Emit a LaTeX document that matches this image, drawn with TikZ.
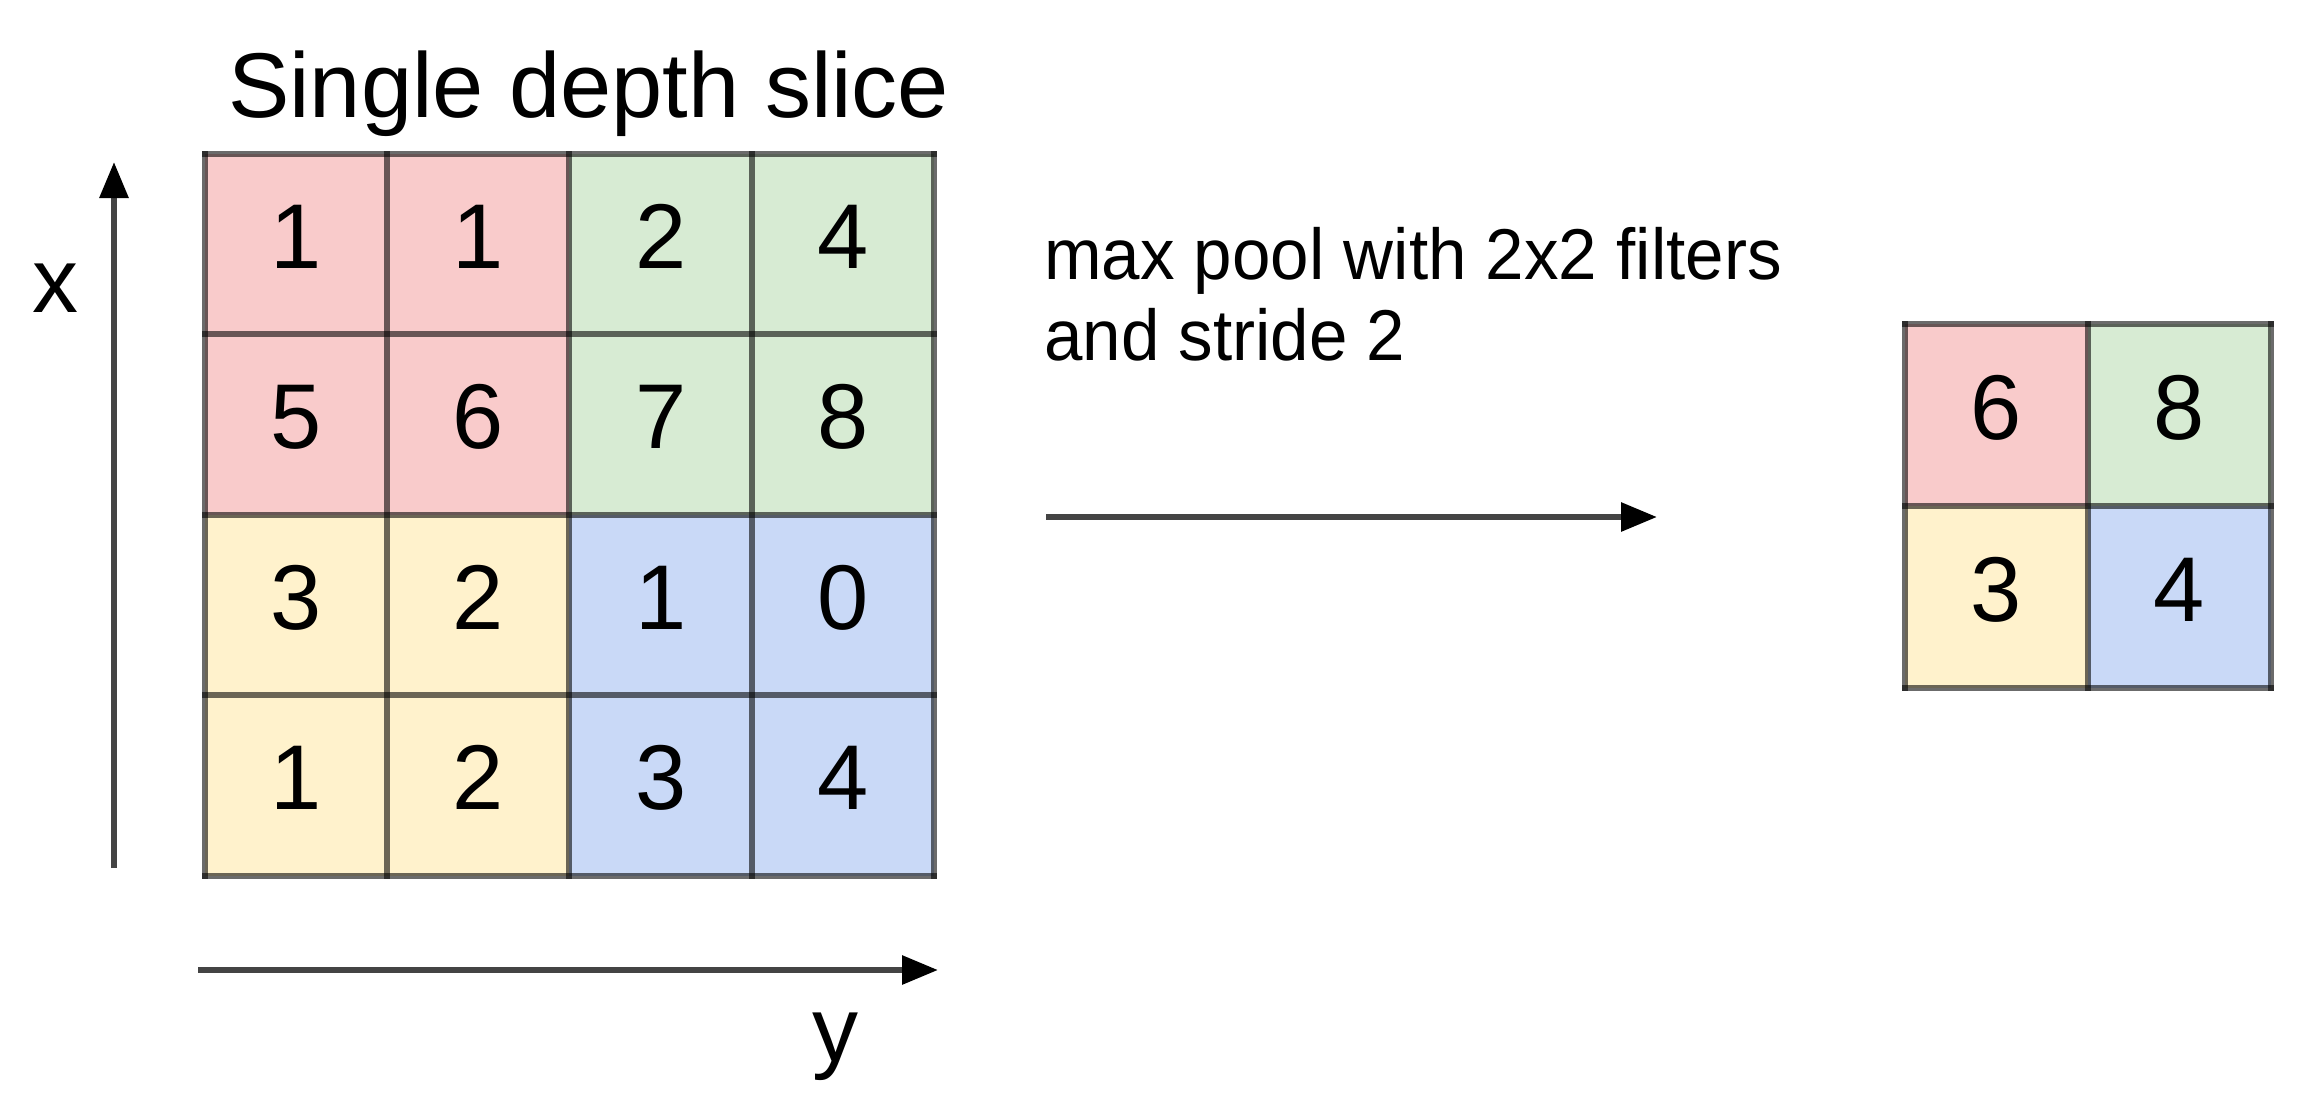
\documentclass[tikz,border=0pt]{standalone}
\usepackage{fontspec}
\setmainfont{Liberation Sans}
\newfontfamily\condfont{Liberation Sans}[FakeStretch=0.96]
\usetikzlibrary{arrows.meta}
\definecolor{pinkc}{HTML}{F9CBCB}
\definecolor{greenc}{HTML}{D7EBD3}
\definecolor{yellowc}{HTML}{FFF2CC}
\definecolor{bluec}{HTML}{C9D9F7}
\definecolor{arrowc}{HTML}{444444}
\tikzset{
  cellL/.style={rectangle, inner sep=0pt, draw=none, minimum width=182.25pt, minimum height=180.5pt},
  cellR/.style={rectangle, inner sep=0pt, draw=none, minimum width=183pt, minimum height=182pt},
  num/.style={anchor=base, inner sep=0pt, font=\fontsize{92}{110}\selectfont},
  gridline/.style={draw=black, draw opacity=0.58, line width=6pt, line cap=rect},
  axisarrow/.style={draw=arrowc, line width=6pt, -{Triangle[length=36pt,width=28pt,color=black,fill=black]}},
  label/.style={inner sep=0pt, font=\fontsize{92}{110}\selectfont}
}
\begin{document}
\begin{tikzpicture}[x=1pt,y=-1pt]
\path[use as bounding box] (0,0) rectangle (2304,1117);
% title
\node[label, anchor=base west] (title) at (228,117) {Single depth slice};
% left grid cells
\node[cellL, fill=pinkc]   (a11) at (296.1,244.25) {};
\node[cellL, fill=pinkc]   (a12) at (478.4,244.25) {};
\node[cellL, fill=greenc]  (a13) at (660.6,244.25) {};
\node[cellL, fill=greenc]  (a14) at (842.9,244.25) {};
\node[cellL, fill=pinkc]   (a21) at (296.1,424.75) {};
\node[cellL, fill=pinkc]   (a22) at (478.4,424.75) {};
\node[cellL, fill=greenc]  (a23) at (660.6,424.75) {};
\node[cellL, fill=greenc]  (a24) at (842.9,424.75) {};
\node[cellL, fill=yellowc] (a31) at (296.1,605.25) {};
\node[cellL, fill=yellowc] (a32) at (478.4,605.25) {};
\node[cellL, fill=bluec]   (a33) at (660.6,605.25) {};
\node[cellL, fill=bluec]   (a34) at (842.9,605.25) {};
\node[cellL, fill=yellowc] (a41) at (296.1,785.75) {};
\node[cellL, fill=yellowc] (a42) at (478.4,785.75) {};
\node[cellL, fill=bluec]   (a43) at (660.6,785.75) {};
\node[cellL, fill=bluec]   (a44) at (842.9,785.75) {};
% left grid lines
\draw[gridline] (a11.north west) -- (a14.north east);
\draw[gridline] (a21.north west) -- (a24.north east);
\draw[gridline] (a31.north west) -- (a34.north east);
\draw[gridline] (a41.north west) -- (a44.north east);
\draw[gridline] (a41.south west) -- (a44.south east);
\draw[gridline] (a11.north west) -- (a41.south west);
\draw[gridline] (a12.north west) -- (a42.south west);
\draw[gridline] (a13.north west) -- (a43.south west);
\draw[gridline] (a14.north west) -- (a44.south west);
\draw[gridline] (a14.north east) -- (a44.south east);
% left numbers
\node[num] (n11) at ([yshift=-24pt]a11.center) {1};
\node[num] (n12) at ([yshift=-24pt]a12.center) {1};
\node[num] (n13) at ([yshift=-24pt]a13.center) {2};
\node[num] (n14) at ([yshift=-24pt]a14.center) {4};
\node[num] (n21) at ([yshift=-24pt]a21.center) {5};
\node[num] (n22) at ([yshift=-24pt]a22.center) {6};
\node[num] (n23) at ([yshift=-24pt]a23.center) {7};
\node[num] (n24) at ([yshift=-24pt]a24.center) {8};
\node[num] (n31) at ([yshift=-24pt]a31.center) {3};
\node[num] (n32) at ([yshift=-24pt]a32.center) {2};
\node[num] (n33) at ([yshift=-24pt]a33.center) {1};
\node[num] (n34) at ([yshift=-24pt]a34.center) {0};
\node[num] (n41) at ([yshift=-24pt]a41.center) {1};
\node[num] (n42) at ([yshift=-24pt]a42.center) {2};
\node[num] (n43) at ([yshift=-24pt]a43.center) {3};
\node[num] (n44) at ([yshift=-24pt]a44.center) {4};
% axes
\coordinate (vbot) at (114,868);
\coordinate (vtop) at (114,162);
\draw[axisarrow] (vbot) -- (vtop);
\node[label, anchor=base] (xlab) at (55,312) {x};
\coordinate (hleft) at (198,970);
\coordinate (hright) at (938,970);
\draw[axisarrow] (hleft) -- (hright);
\node[label, anchor=base] (ylab) at (835,1061) {y};
% middle text and arrow
\node[inner sep=0pt, anchor=base west, align=left, font=\condfont\fontsize{72}{81}\selectfont] (op) at (1044,360) {max pool with 2x2 filters\\and stride 2};
\coordinate (mleft) at (1046,517);
\coordinate (mright) at (1657,517);
\draw[axisarrow] (mleft) -- (mright);
% right grid
\node[cellR, fill=pinkc]   (b11) at (1996.5,415) {};
\node[cellR, fill=greenc]  (b12) at (2179.5,415) {};
\node[cellR, fill=yellowc] (b21) at (1996.5,597) {};
\node[cellR, fill=bluec]   (b22) at (2179.5,597) {};
\draw[gridline] (b11.north west) -- (b12.north east);
\draw[gridline] (b21.north west) -- (b22.north east);
\draw[gridline] (b21.south west) -- (b22.south east);
\draw[gridline] (b11.north west) -- (b21.south west);
\draw[gridline] (b12.north west) -- (b22.south west);
\draw[gridline] (b12.north east) -- (b22.south east);
\node[num] (m11) at ([yshift=-24pt]b11.center) {6};
\node[num] (m12) at ([yshift=-24pt]b12.center) {8};
\node[num] (m21) at ([yshift=-24pt]b21.center) {3};
\node[num] (m22) at ([yshift=-24pt]b22.center) {4};
\end{tikzpicture}
\end{document}
